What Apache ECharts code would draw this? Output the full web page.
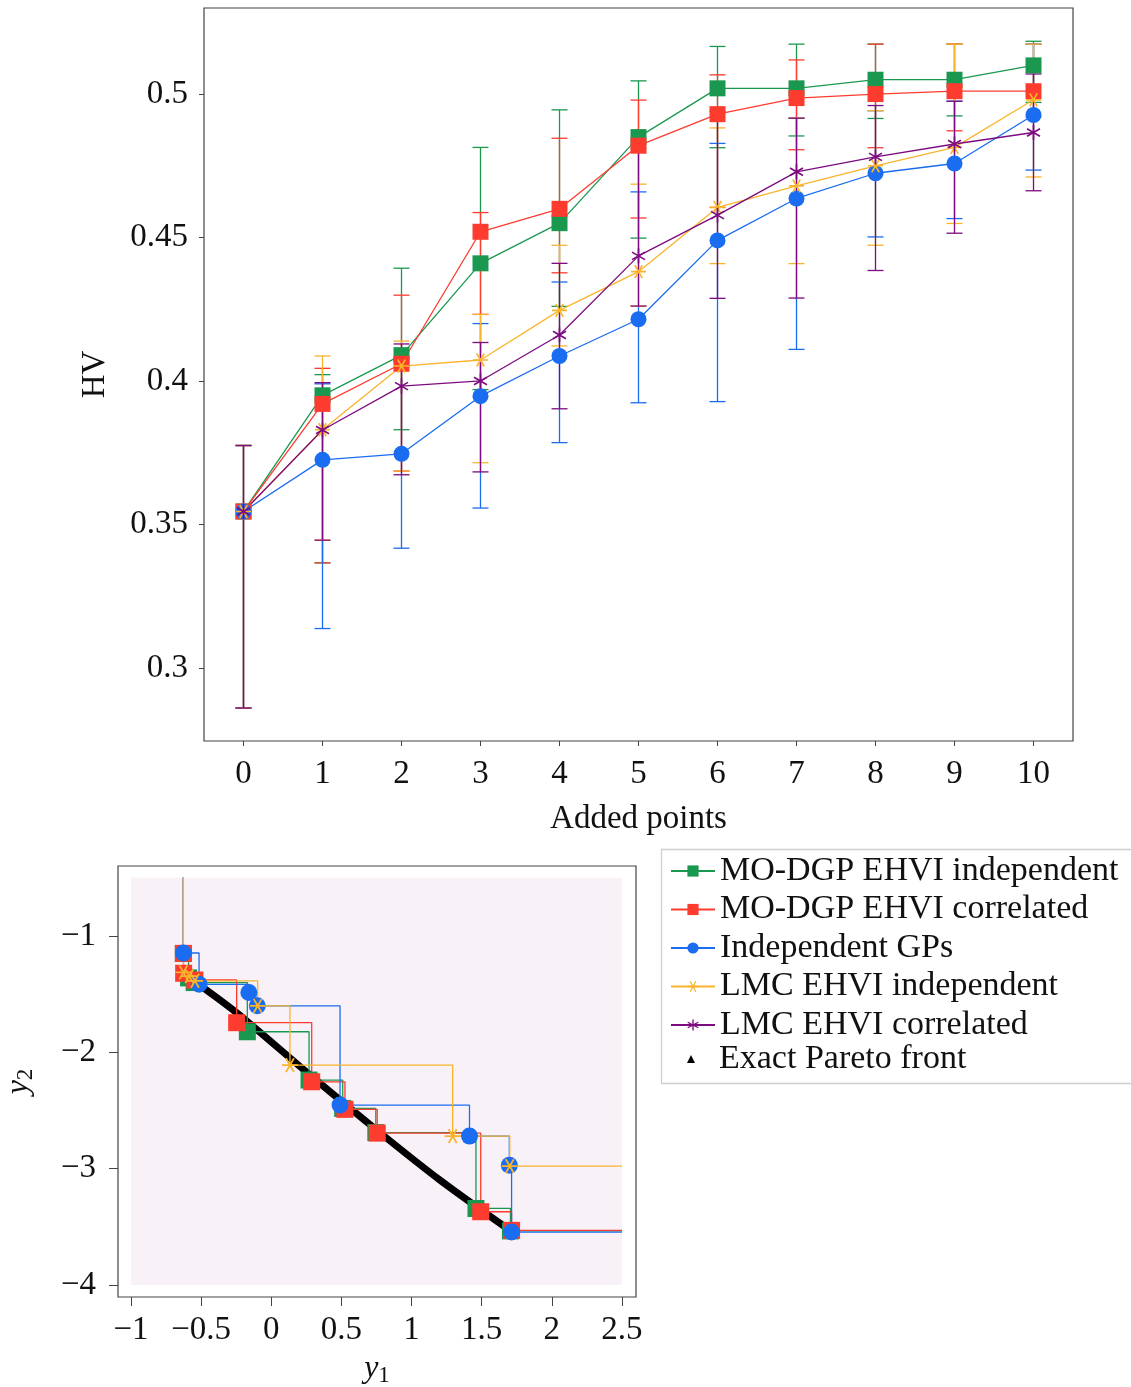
<!DOCTYPE html>
<html>
<head>
<meta charset="utf-8">
<script src="https://cdn.jsdelivr.net/npm/echarts@6/dist/echarts.min.js"></script>
<style>html,body{margin:0;padding:0;background:#fff}#c{width:1131px;height:1387px}</style>
</head>
<body>
<div id="c"></div>
<script>
// ---------- Top chart data (HV vs added points) ----------
const addedPoints = ['0','1','2','3','4','5','6','7','8','9','10'];
const hvTicks = [0.3, 0.35, 0.4, 0.45, 0.5];

const greenMean = [0.3545, 0.395, 0.409, 0.441, 0.455, 0.485, 0.502, 0.502, 0.505, 0.505, 0.510];
const greenLow  = [0.286, 0.3366, 0.383, 0.397, 0.426, 0.4498, 0.4813, 0.4854, 0.4915, 0.4924, 0.4971];
const greenHigh = [0.3775, 0.4022, 0.4393, 0.4814, 0.4945, 0.5046, 0.5166, 0.5174, 0.5174, 0.5174, 0.5184];

const redMean = [0.3545, 0.392, 0.406, 0.452, 0.460, 0.482, 0.493, 0.4986, 0.500, 0.501, 0.501];
const redLow  = [0.286, 0.3366, 0.3686, 0.4232, 0.4377, 0.4568, 0.4605, 0.4806, 0.4813, 0.4872, 0.492];
const redHigh = [0.3775, 0.4044, 0.4299, 0.4587, 0.4846, 0.4979, 0.5067, 0.5119, 0.5174, 0.5174, 0.5174];

const blueMean = [0.3545, 0.3725, 0.3746, 0.3947, 0.4087, 0.4215, 0.449, 0.4636, 0.4724, 0.4758, 0.4927];
const blueLow  = [0.286, 0.3137, 0.3417, 0.3557, 0.3785, 0.3924, 0.3928, 0.411, 0.4502, 0.4566, 0.4735];
const blueHigh = [0.3775, 0.399, 0.408, 0.420, 0.4345, 0.4659, 0.4828, 0.4916, 0.4942, 0.4975, 0.5174];

const yellowMean = [0.3545, 0.383, 0.4052, 0.4073, 0.4246, 0.4381, 0.4605, 0.468, 0.475, 0.4814, 0.498];
const yellowLow  = [0.286, 0.3445, 0.3686, 0.3715, 0.4122, 0.4261, 0.4409, 0.4409, 0.4473, 0.4549, 0.4711];
const yellowHigh = [0.3775, 0.4087, 0.4139, 0.4232, 0.4473, 0.4686, 0.4882, 0.4916, 0.4942, 0.5174, 0.5174];

const purpleMean = [0.3545, 0.3829, 0.3982, 0.400, 0.416, 0.4436, 0.4578, 0.4729, 0.4781, 0.4826, 0.4866];
const purpleLow  = [0.286, 0.3445, 0.3673, 0.3683, 0.3903, 0.4261, 0.4288, 0.4289, 0.4385, 0.4515, 0.4663];
const purpleHigh = [0.3775, 0.3994, 0.4129, 0.4134, 0.441, 0.481, 0.494, 0.4916, 0.496, 0.4975, 0.507];

// ---------- Bottom chart data (objective space) ----------
const y1Ticks = [-1, -0.5, 0, 0.5, 1, 1.5, 2, 2.5];
const y2Ticks = [-4, -3, -2, -1];
const regionY1 = [-1, 2.5];
const regionY2 = [-4, -0.5];

const greenFront  = [[-0.627,-1.15],[-0.59,-1.36],[-0.55,-1.40],[-0.171,-1.823],[0.269,-2.238],[0.509,-2.482],[0.745,-2.69],[1.459,-3.342],[1.705,-3.535]];
const redFront    = [[-0.627,-1.149],[-0.625,-1.32],[-0.545,-1.378],[-0.247,-1.745],[0.288,-2.253],[0.525,-2.49],[0.755,-2.694],[1.493,-3.37],[1.713,-3.53]];
const blueFront   = [[-0.627,-1.146],[-0.515,-1.415],[-0.16,-1.485],[-0.10,-1.60],[0.49,-2.453],[1.413,-2.72],[1.697,-2.97],[1.713,-3.545]];
const yellowFront = [[-0.627,-1.312],[-0.585,-1.345],[-0.544,-1.385],[-0.097,-1.60],[0.133,-2.11],[1.293,-2.72],[1.70,-2.978]];
const exactFront  = [[-0.501,-1.430],[-0.2445,-1.662],[0.276,-2.195],[0.7605,-2.677],[1.2024,-3.098],[1.7195,-3.545]];

const names = ['MO-DGP EHVI independent','MO-DGP EHVI correlated','Independent GPs','LMC EHVI independent','LMC EHVI correlated'];
const paretoName = 'Exact Pareto front';

// ---------- styling ----------
const C = {green:'#1a9850', red:'#fe3b2f', blue:'#1a6cf0', yellow:'#f9b42c', purple:'#7d0a80'};
const FONT = 'Liberation Serif';
const AX = '#444';

function asterisk(anglesDeg){
  const L = 10, w = 1.1, o = 12;
  let d = '';
  anglesDeg.forEach(a => {
    const r = a*Math.PI/180, c = Math.cos(r), s = Math.sin(r);
    const p = [[L*c + w*s, L*s - w*c],[L*c - w*s, L*s + w*c],[-L*c - w*s, -L*s + w*c],[-L*c + w*s, -L*s - w*c]];
    d += 'M' + p.map(q => (q[0]+o).toFixed(3)+','+(q[1]+o).toFixed(3)).join('L') + 'Z';
  });
  return 'path://' + d;
}
const starYellow = asterisk([0,60,120]);
const starPurple = asterisk([90,30,150]);

const methods = [
  {name:names[0], color:C.green,  symbol:'rect',   size:16, mean:greenMean,  low:greenLow,  high:greenHigh,  front:greenFront},
  {name:names[1], color:C.red,    symbol:'rect',   size:16, mean:redMean,    low:redLow,    high:redHigh,    front:redFront},
  {name:names[2], color:C.blue,   symbol:'circle', size:16, mean:blueMean,   low:blueLow,   high:blueHigh,   front:blueFront},
  {name:names[3], color:C.yellow, symbol:starYellow, size:15, mean:yellowMean, low:yellowLow, high:yellowHigh, front:yellowFront},
  {name:names[4], color:C.purple, symbol:starPurple, size:15, mean:purpleMean, low:purpleLow, high:purpleHigh, front:null}
];

function errRender(color){
  return function(params, api){
    const x = api.value(0);
    const p1 = api.coord([x, api.value(1)]);
    const p2 = api.coord([x, api.value(2)]);
    const hw = 8;
    const style = {stroke: color, lineWidth: 1.3};
    return {type:'group', children:[
      {type:'line', shape:{x1:p1[0], y1:p1[1], x2:p2[0], y2:p2[1]}, style},
      {type:'line', shape:{x1:p1[0]-hw, y1:p1[1], x2:p1[0]+hw, y2:p1[1]}, style},
      {type:'line', shape:{x1:p2[0]-hw, y1:p2[1], x2:p2[0]+hw, y2:p2[1]}, style}
    ]};
  };
}

const series = [];
// top chart
methods.forEach((m, k) => {
  series.push({
    type:'custom', name:'err'+k, xAxisIndex:0, yAxisIndex:0,
    renderItem: errRender(m.color),
    encode:{x:0, y:[1,2]},
    data: addedPoints.map((c,i) => [i, m.low[i], m.high[i]]),
    silent:true
  });
  series.push({
    type:'line', name:m.name, xAxisIndex:0, yAxisIndex:0,
    data: m.mean, symbol:m.symbol, symbolSize:m.size, symbolKeepAspect:true,
    lineStyle:{color:m.color, width:1.3}, itemStyle:{color:m.color},
    showAllSymbol:true, animation:false
  });
});

// bottom chart: background region
series.push({
  type:'custom', name:'bg', xAxisIndex:1, yAxisIndex:1, silent:true,
  renderItem: function(params, api){
    const a = api.coord([api.value(0), api.value(3)]);
    const b = api.coord([api.value(2), api.value(1)]);
    return {type:'rect', shape:{x:a[0], y:a[1], width:b[0]-a[0], height:b[1]-a[1]}, style:{fill:'#f8f1f8'}};
  },
  encode:{x:[0,2], y:[1,3]},
  data:[[regionY1[0], regionY2[0], regionY1[1], regionY2[1]]]
});
// exact Pareto front
series.push({
  type:'line', name:paretoName, xAxisIndex:1, yAxisIndex:1,
  data: exactFront, symbol:'none', smooth:0.3, lineStyle:{color:'#000', width:7, join:'round'}, itemStyle:{color:'#000'},
  animation:false
});
// step fronts
methods.forEach(m => {
  if (!m.front) return;
  const pts = m.front;
  const data = [{value:[pts[0][0], regionY2[1]], symbol:'none'}]
    .concat(pts.map(p => ({value:p})))
    .concat([{value:[regionY1[1], pts[pts.length-1][1]], symbol:'none'}]);
  series.push({
    type:'line', name:m.name, xAxisIndex:1, yAxisIndex:1, step:'end',
    data, symbol:m.symbol, symbolSize:m.size+1, symbolKeepAspect:true,
    lineStyle:{color:m.color, width:1.3}, itemStyle:{color:m.color},
    showAllSymbol:true, animation:false
  });
});

const minus = v => String(v).replace('-', '\u2212');
const labelStyle = {fontFamily:FONT, fontSize:33, color:'#111'};
const subRich = {i:{fontFamily:FONT, fontSize:32, fontStyle:'italic', color:'#111'}, s:{fontFamily:FONT, fontSize:23, color:'#111', padding:[14,0,0,0]}};

const option = {
  animation:false,
  backgroundColor:'#fff',
  grid:[
    {left:204, top:8, width:869, height:733, show:true, borderColor:AX, borderWidth:1.2, backgroundColor:'transparent', outerBoundsMode:'none', containLabel:false},
    {left:118, top:866, width:518, height:431, show:true, borderColor:AX, borderWidth:1.2, backgroundColor:'transparent', outerBoundsMode:'none', containLabel:false}
  ],
  xAxis:[
    {type:'category', gridIndex:0, data:addedPoints, boundaryGap:true,
     axisLine:{show:false, onZero:false}, axisTick:{show:true, alignWithLabel:true, length:5, lineStyle:{color:AX}},
     axisLabel:{...labelStyle, margin:17},
     name:'Added points', nameLocation:'middle', nameGap:62, nameTextStyle:{...labelStyle}},
    {type:'value', gridIndex:1, min:-1.093, max:2.6, splitLine:{show:false},
     axisLine:{show:false, onZero:false}, axisTick:{show:true, length:9, lineStyle:{color:AX}, customValues:y1Ticks},
     axisLabel:{...labelStyle, margin:17, customValues:y1Ticks, formatter:minus},
     name:'{i|y}{s|1}', nameLocation:'middle', nameGap:53,
     nameTextStyle:{rich:subRich}}
  ],
  yAxis:[
    {type:'value', gridIndex:0, min:0.2745, max:0.530, splitLine:{show:false},
     axisLine:{show:false, onZero:false}, axisTick:{show:true, length:5, lineStyle:{color:AX}, customValues:hvTicks},
     axisLabel:{...labelStyle, margin:16, customValues:hvTicks, formatter:v => String(+(+v).toFixed(2))},
     name:'HV', nameLocation:'middle', nameGap:92, nameTextStyle:{...labelStyle}},
    {type:'value', gridIndex:1, min:-4.103, max:-0.398, splitLine:{show:false},
     axisLine:{show:false, onZero:false}, axisTick:{show:true, length:9, lineStyle:{color:AX}, customValues:y2Ticks},
     axisLabel:{...labelStyle, margin:22, customValues:y2Ticks, formatter:minus},
     name:'{i|y}{s|2}', nameLocation:'middle', nameGap:81,
     nameTextStyle:{rich:subRich}}
  ],
  legend:[
    {data:names, orient:'vertical', left:665, top:849, itemWidth:44, itemHeight:14, itemGap:4.5,
     textStyle:{fontFamily:FONT, fontSize:34, color:'#111', lineHeight:33}, selectedMode:false},
    {data:[{name:paretoName, icon:'triangle'}], orient:'vertical', left:682, top:1037, itemWidth:8, itemHeight:8,
     textStyle:{fontFamily:FONT, fontSize:34, color:'#111', lineHeight:33, padding:[0,0,0,19]}, selectedMode:false}
  ],
  graphic:[
    {type:'rect', left:659, top:847, shape:{width:471, height:234}, style:{fill:'none', stroke:'#cfcfcf', lineWidth:1.3}, z:-1}
  ],
  series
};

const chart = echarts.init(document.getElementById('c'), null, {renderer:'canvas'});
chart.setOption(option);
</script>
</body>
</html>
